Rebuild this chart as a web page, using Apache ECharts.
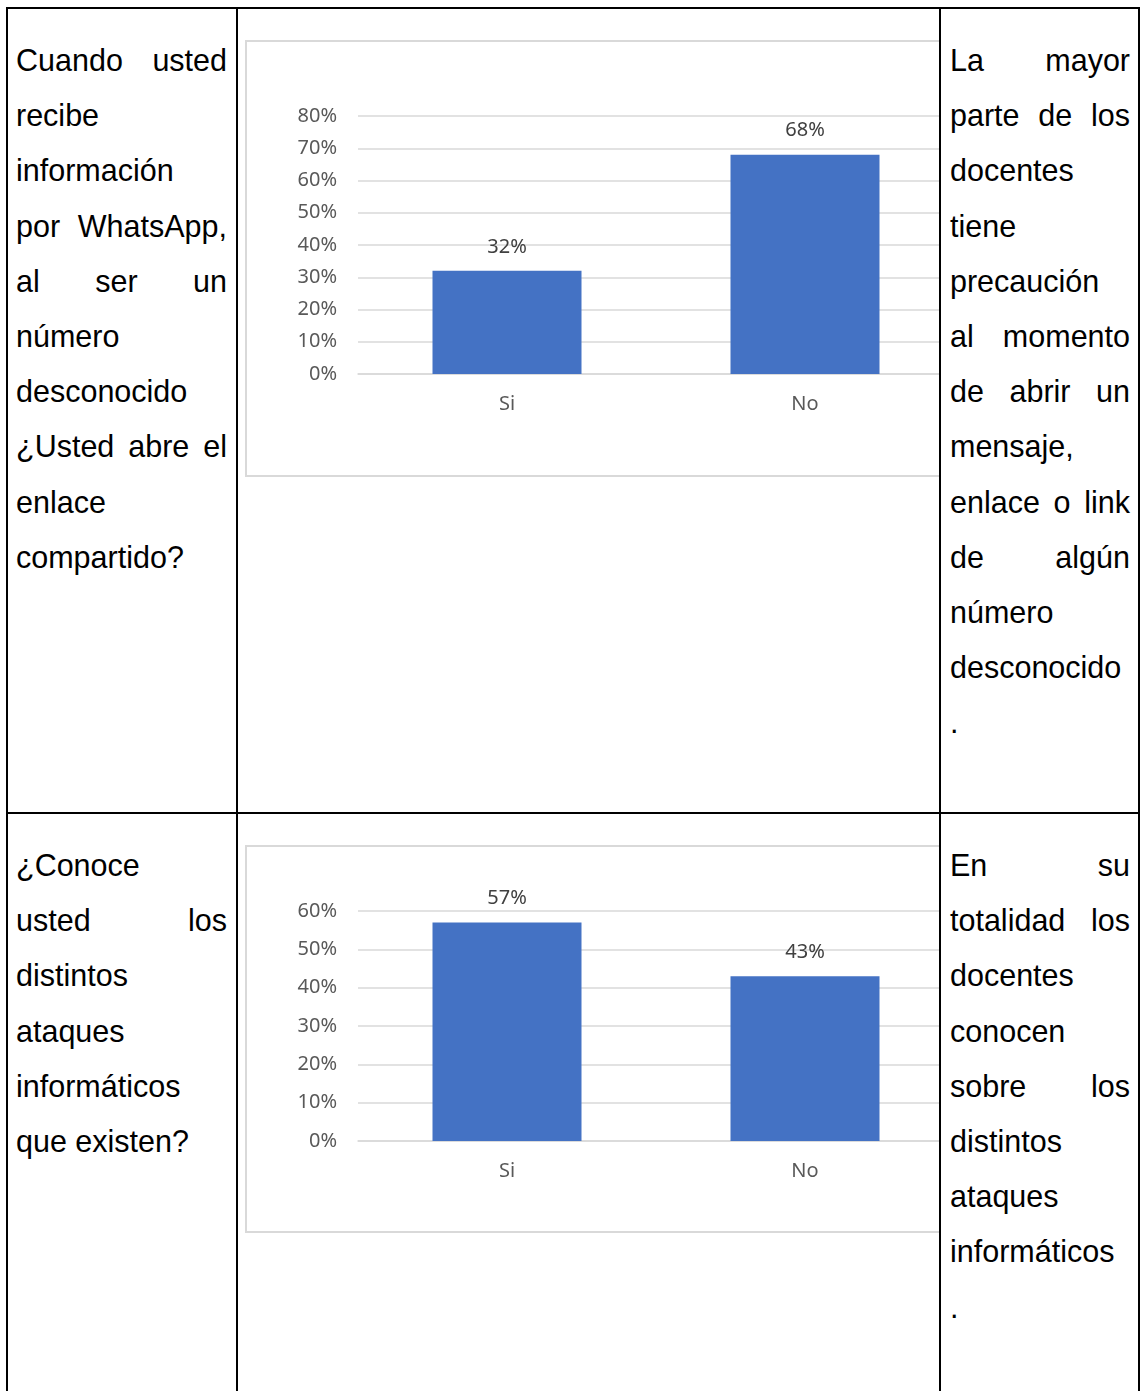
<!DOCTYPE html>
<html>
<head>
<meta charset="utf-8">
<script src="https://cdn.jsdelivr.net/npm/echarts@6/dist/echarts.min.js"></script>
<style>
  html, body { margin: 0; padding: 0; background: #fff; }
  #page { position: relative; width: 1141px; height: 1391px; overflow: hidden; }
  .line { position: absolute; background: #000; z-index: 5; }
  .chartbox { position: absolute; border: 2px solid #d9d9d9; box-sizing: border-box; background: #fff; z-index: 1; }
  .chart { width: 100%; height: 100%; }
  .cover { position: absolute; background: #fff; z-index: 3; }
  .text { position: absolute; z-index: 4; font-family: "Liberation Sans", Arial, sans-serif; font-size: 30.5px; line-height: 55.2px; color: #000; }
  .text div { text-align: justify; text-align-last: justify; white-space: nowrap; }
  .text div.last { text-align-last: left; }
</style>
</head>
<body>
<div id="page">
  <div class="chartbox" style="left:245px;top:40px;width:716px;height:437px"><div id="c1" class="chart"></div></div>
  <div class="chartbox" style="left:245px;top:845px;width:716px;height:388px"><div id="c2" class="chart"></div></div>
  <div class="cover" style="left:941px;top:0;width:200px;height:1391px"></div>

  <div id="t1l" class="text" style="left:16px;top:33px;width:211px"></div>
  <div id="t1r" class="text" style="left:950px;top:33px;width:180px"></div>
  <div id="t2l" class="text" style="left:16px;top:838px;width:211px"></div>
  <div id="t2r" class="text" style="left:950px;top:838px;width:180px"></div>

  <div class="line" style="left:6px;top:7px;width:1134px;height:2px"></div>
  <div class="line" style="left:6px;top:812px;width:1134px;height:2px"></div>
  <div class="line" style="left:6px;top:7px;width:2px;height:1384px"></div>
  <div class="line" style="left:236px;top:7px;width:2px;height:1384px"></div>
  <div class="line" style="left:939px;top:7px;width:2px;height:1384px"></div>
  <div class="line" style="left:1138px;top:7px;width:2px;height:1384px"></div>
</div>
<script>
// text lines of the table cells
const q1Lines = ['Cuando usted', 'recibe', 'información', 'por WhatsApp,', 'al ser un', 'número',
    'desconocido', '¿Usted abre el', 'enlace', 'compartido?']
const a1Lines = ['La mayor', 'parte de los', 'docentes', 'tiene', 'precaución', 'al momento',
    'de abrir un', 'mensaje,', 'enlace o link', 'de algún', 'número', 'desconocido', '.']
const q2Lines = ['¿Conoce', 'usted los', 'distintos', 'ataques', 'informáticos', 'que existen?']
const a2Lines = ['En su', 'totalidad los', 'docentes', 'conocen', 'sobre los', 'distintos',
    'ataques', 'informáticos', '.']

// chart data
const categories = ['Si', 'No']
const chart1Values = [0.32, 0.68]
const chart1Max = 0.8
const chart2Values = [0.57, 0.43]
const chart2Max = 0.6

function fillText(id, lines) {
    const el = document.getElementById(id)
    lines.forEach((t, i) => {
        const d = document.createElement('div')
        d.textContent = t
        if (i === lines.length - 1) d.className = 'last'
        el.appendChild(d)
    })
}
fillText('t1l', q1Lines)
fillText('t1r', a1Lines)
fillText('t2l', q2Lines)
fillText('t2r', a2Lines)

const pct = (v) => Math.round(v * 100) + '%'
const FONT = '"Noto Sans", sans-serif'

function makeChart(id, values, max, grid) {
    const chart = echarts.init(document.getElementById(id), null, { renderer: 'canvas' })
    chart.setOption({
        animation: false,
        grid: grid,
        xAxis: {
            type: 'category',
            data: categories,
            axisLine: { show: true, lineStyle: { color: '#d9d9d9', width: 1.5 } },
            axisTick: { show: false },
            axisLabel: { color: '#595959', fontSize: 20, fontFamily: FONT, margin: 20 },
        },
        yAxis: {
            type: 'value',
            min: 0,
            max: max,
            interval: 0.1,
            axisLine: { show: false },
            axisTick: { show: false },
            axisLabel: { color: '#595959', fontSize: 20, fontFamily: FONT, margin: 21, formatter: pct },
            splitLine: { lineStyle: { color: '#d9d9d9', width: 1.5 } },
        },
        series: [{
            type: 'bar',
            data: values,
            barWidth: '50%',
            itemStyle: { color: '#4472c4' },
            label: {
                show: true,
                position: 'top',
                distance: 14,
                color: '#404040',
                fontSize: 20,
                fontFamily: FONT,
                formatter: (p) => pct(p.value),
            },
        }],
    })
}

makeChart('c1', chart1Values, chart1Max, { left: 111, right: 5, top: 74, bottom: 101 })
makeChart('c2', chart2Values, chart2Max, { left: 111, right: 5, top: 64, bottom: 90 })
</script>
</body>
</html>
